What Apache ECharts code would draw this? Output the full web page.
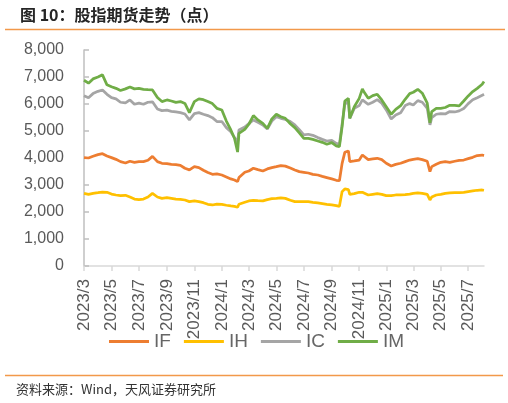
<!DOCTYPE html>
<html><head><meta charset="utf-8">
<script src="https://cdn.jsdelivr.net/npm/echarts@6/dist/echarts.min.js"></script>
<style>html,body{margin:0;padding:0;background:#fff}#c{width:508px;height:403px}</style>
</head><body><div id="c"></div>
<script>
const dates = [
'2023-03-01','2023-03-11','2023-03-21','2023-04-01','2023-04-11','2023-04-21','2023-05-01','2023-05-11','2023-05-21','2023-06-01',
'2023-06-11','2023-06-21','2023-07-01','2023-07-11','2023-07-21','2023-07-31','2023-08-11','2023-08-21','2023-09-01','2023-09-11',
'2023-09-21','2023-10-01','2023-10-11','2023-10-21','2023-11-01','2023-11-11','2023-11-21','2023-12-01','2023-12-11','2023-12-21',
'2024-01-01','2024-01-11','2024-01-21','2024-01-29','2024-02-05','2024-02-08','2024-02-21','2024-03-01','2024-03-11','2024-03-21',
'2024-04-01','2024-04-11','2024-04-21','2024-05-01','2024-05-11','2024-05-21','2024-06-01','2024-06-11','2024-06-21','2024-07-01',
'2024-07-11','2024-07-21','2024-08-01','2024-08-11','2024-08-21','2024-09-01','2024-09-11','2024-09-18','2024-09-24','2024-09-30',
'2024-10-08','2024-10-11','2024-10-21','2024-11-01','2024-11-08','2024-11-11','2024-11-21','2024-12-01','2024-12-11','2024-12-21',
'2024-12-31','2025-01-11','2025-01-21','2025-02-01','2025-02-11','2025-02-21','2025-03-01','2025-03-11','2025-03-21','2025-04-01',
'2025-04-07','2025-04-11','2025-04-21','2025-05-01','2025-05-11','2025-05-21','2025-06-01','2025-06-11','2025-06-21','2025-07-01',
'2025-07-11','2025-07-21','2025-08-01','2025-08-05'
];
const ifValues = [
4015,4000,4065,4125,4160,4075,4015,3950,3865,3815,
3880,3840,3865,3865,3915,4060,3865,3805,3790,3765,
3755,3730,3620,3560,3680,3645,3545,3460,3395,3410,
3370,3300,3225,3185,3125,3275,3470,3520,3620,3570,
3520,3595,3645,3680,3720,3700,3630,3555,3495,3470,
3445,3395,3370,3320,3275,3225,3175,3160,3800,4210,
4260,3865,3890,3925,4110,4075,3940,3965,3990,3940,
3805,3705,3765,3805,3865,3925,3950,3975,3940,3880,
3495,3680,3765,3840,3865,3840,3880,3915,3925,3975,
4025,4090,4110,4090
];
const ihValues = [
2690,2655,2690,2715,2740,2730,2665,2630,2605,2620,
2555,2480,2460,2480,2555,2690,2555,2505,2530,2505,
2480,2470,2445,2385,2410,2385,2345,2285,2260,2295,
2285,2250,2225,2210,2175,2285,2360,2410,2430,2420,
2410,2460,2495,2505,2520,2505,2435,2385,2385,2385,
2385,2360,2335,2310,2285,2260,2235,2210,2755,2855,
2830,2655,2680,2730,2730,2690,2630,2655,2680,2655,
2605,2605,2630,2630,2645,2665,2690,2705,2690,2655,
2445,2555,2630,2655,2690,2705,2715,2715,2730,2755,
2780,2805,2815,2805
];
const icValues = [
6310,6235,6385,6470,6520,6360,6235,6190,6065,6040,
6150,5990,6030,5990,6065,6080,5815,5755,5770,5730,
5705,5680,5630,5410,5645,5680,5620,5570,5495,5350,
5350,5125,4975,4755,4600,5040,5150,5275,5410,5320,
5225,5075,5370,5530,5470,5430,5350,5225,5050,4855,
4880,4840,4755,4690,4630,4655,4545,4510,5250,5990,
6090,5470,5840,5940,6150,6190,5990,6065,6160,6030,
5780,5445,5595,5680,5940,6015,5965,6125,6065,5840,
5230,5495,5620,5645,5630,5720,5705,5745,5830,6015,
6160,6235,6320,6360
];
const imValues = [
6880,6770,6930,7000,7080,6710,6640,6580,6500,6560,
6630,6560,6580,6545,6530,6520,6240,6090,6150,6110,
6060,6090,6020,5680,6090,6190,6160,6090,6015,5840,
5780,5370,5040,4730,4220,4915,5060,5250,5570,5410,
5285,5100,5450,5620,5530,5470,5270,5125,4930,4730,
4730,4690,4630,4580,4510,4570,4450,4420,5160,6110,
6210,5470,5900,6210,6560,6460,6210,6310,6360,6150,
5900,5620,5800,5940,6175,6385,6435,6545,6400,6030,
5300,5720,5840,5840,5870,5950,5950,5930,6110,6300,
6460,6580,6730,6830
];
const tickLabels = ['2023/3','2023/5','2023/7','2023/9','2023/11','2024/1','2024/3','2024/5','2024/7','2024/9','2024/11','2025/1','2025/3','2025/5','2025/7'];
const seriesNames = ['IF','IH','IC','IM'];
const seriesColors = ['#ED7D31','#FFC000','#A5A5A5','#70AD47'];

function labelTs(label){ const p = label.split('/').map(Number); return Date.UTC(p[0], p[1]-1, 1); }
function dateTs(s){ const p = s.split('-').map(Number); return Date.UTC(p[0], p[1]-1, p[2]); }
const tickValues = tickLabels.map(labelTs);
const xs = dates.map(dateTs);
const font = '"Liberation Sans", Arial, sans-serif';
const chart = echarts.init(document.getElementById('c'), null, {renderer:'canvas'});
const allValues = [ifValues, ihValues, icValues, imValues];
const series = seriesNames.map((n, k) => ({
  name: n, type: 'line', showSymbol: false, symbol: 'none',
  data: xs.map((x, i) => [x, allValues[k][i]]),
  lineStyle: {width: 2.75, color: seriesColors[k]},
  itemStyle: {color: seriesColors[k]}
}));
const option = {
  animation: false,
  grid: {left: 84, right: 24, top: 50, bottom: 137},
  xAxis: {
    type: 'value', min: xs[0], max: xs[xs.length - 1], scale: true,
    axisLine: {lineStyle: {color: '#D9D9D9', width: 1.5}},
    axisTick: {show: true, customValues: tickValues, length: 5, lineStyle: {color: '#D9D9D9', width: 1.5}},
    axisLabel: {customValues: tickValues, rotate: 90, margin: 13, fontSize: 17, color: '#595959', fontFamily: font,
      formatter: v => { const i = tickValues.indexOf(v); return i >= 0 ? tickLabels[i] : ''; }},
    splitLine: {show: false}
  },
  yAxis: {
    type: 'value', min: 0, max: 8000, interval: 1000,
    axisLine: {show: true, lineStyle: {color: '#BFBFBF', width: 1.5}},
    axisTick: {show: true, inside: true, length: 5, lineStyle: {color: '#BFBFBF', width: 1.5}},
    axisLabel: {margin: 20, fontSize: 16, color: '#595959', fontFamily: font,
      formatter: v => String(v).replace(/\B(?=(\d{3})+(?!\d))/g, ',')},
    splitLine: {show: false}
  },
  legend: {
    left: 104, top: 327, itemWidth: 40, itemHeight: 3, itemGap: 13, icon: 'rect',
    textStyle: {fontSize: 19, color: '#666', fontFamily: font, width: 20},
    data: seriesNames
  },
  series: series,
  graphic: [
    {type: 'text', left: 20, top: 7, style: {text: '图 10：股指期货走势（点）', font: 'bold 16px "Noto Sans CJK SC", sans-serif', fill: '#262626'}},
    {type: 'line', shape: {x1: 5, y1: 29.5, x2: 505, y2: 29.5}, style: {stroke: '#F2994A', lineWidth: 1.5}},
    {type: 'line', shape: {x1: 5, y1: 375.5, x2: 503, y2: 375.5}, style: {stroke: '#F2994A', lineWidth: 1.5}},
    {type: 'text', left: 16, top: 383, style: {text: '资料来源：Wind，天风证券研究所', font: '13px "Noto Sans CJK SC", sans-serif', fill: '#333'}}
  ]
};
chart.setOption(option);
</script></body></html>
